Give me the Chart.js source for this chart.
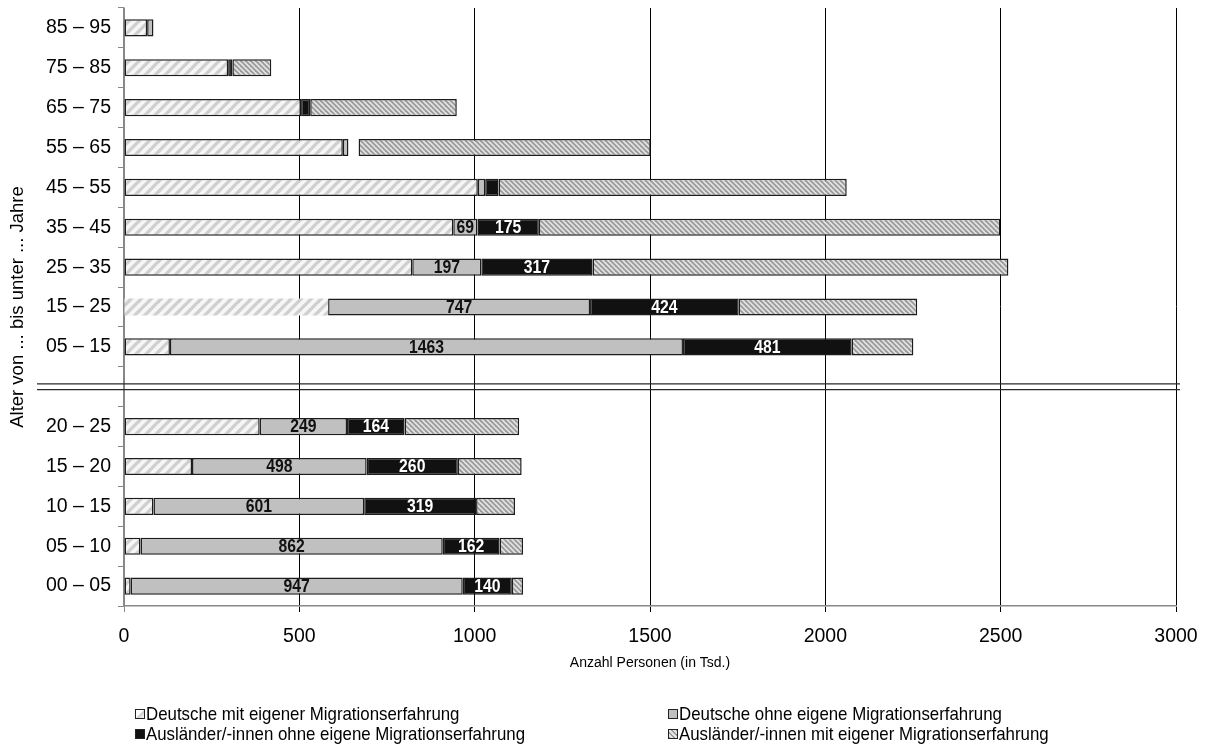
<!DOCTYPE html>
<html><head><meta charset="utf-8">
<script src="https://cdn.jsdelivr.net/npm/chart.js@4.4.0/dist/chart.umd.min.js"></script>
<style>
html,body{margin:0;padding:0;background:#fff;}
#wrap{position:relative;width:1205px;height:749px;overflow:hidden;}
#c{position:absolute;left:0;top:0;}
.leg{position:absolute;font-family:'Liberation Sans',Arial,sans-serif;font-size:18.5px;line-height:21px;color:#000;white-space:nowrap;}
.leg .box{position:absolute;width:8px;height:8px;border:1px solid #222;}
.leg .txt{position:absolute;transform:scaleX(0.91);transform-origin:0 0;}
</style>
</head><body>
<div id="wrap">
<canvas id="c" width="1205" height="749"></canvas>
<div class="leg" id="legend"></div>
</div>
<script>
// ---- data ----
const categories = ['85 – 95','75 – 85','65 – 75','55 – 65','45 – 55','35 – 45','25 – 35','15 – 25','05 – 15','',
                    '20 – 25','15 – 20','10 – 15','05 – 10','00 – 05'];
const seriesNames = ['Deutsche mit eigener Migrationserfahrung',
                     'Deutsche ohne eigene Migrationserfahrung',
                     'Ausländer/-innen ohne eigene Migrationserfahrung',
                     'Ausländer/-innen mit eigener Migrationserfahrung'];
const deutscheMit  = [66, 297, 505, 624, 1009, 939, 822, 582, 131, null, 387, 194, 84, 47, 19];
const deutscheOhne = [18,   0,   0,  16,   21,  69, 197, 747, 1463, null, 249, 498, 601, 862, 947];
const auslOhne     = [ 0,  12,  26,  29,   38, 175, 317, 424, 481, null, 164, 260, 319, 162, 140];
const auslMit      = [ 0, 111, 418, 833,  993, 1316, 1186, 509, 176, null, 327, 182, 111, 67, 32];
const xMin = 0, xMax = 3000, xStep = 500;
const xTitle = 'Anzahl Personen (in Tsd.)';
const yTitle = 'Alter von ... bis unter ... Jahre';
const labelMin = 60;            // segments with smaller values carry no number
const breakIndex = categories.indexOf('');

// ---- styles ----
const FONT = "'Liberation Sans', Arial, sans-serif";
function makePattern(size, bg, fg, lw, dir) {
  const t = document.createElement('canvas');
  t.width = size; t.height = size;
  const g = t.getContext('2d');
  g.fillStyle = bg; g.fillRect(0, 0, size, size);
  g.strokeStyle = fg; g.lineWidth = lw;
  const s = size;
  const segs = dir === '/'
    ? [[-1, s + 1, s + 1, -1], [-1, 1, 1, -1], [s - 1, s + 1, s + 1, s - 1]]
    : [[-1, -1, s + 1, s + 1], [-1, s - 1, 1, s + 1], [s - 1, -1, s + 1, 1]];
  segs.forEach(a => { g.beginPath(); g.moveTo(a[0], a[1]); g.lineTo(a[2], a[3]); g.stroke(); });
  return document.getElementById('c').getContext('2d').createPattern(t, 'repeat');
}
const hatchLight = makePattern(10, '#f6f6f6', '#cfcfcf', 3.2, '/');
const hatchDark = makePattern(5, '#e3e3e3', '#9a9a9a', 1.8, '\\');
const BORDER = '#1c1c1c';

const labelPlugin = {
  id: 'segLabels',
  afterDatasetsDraw(chart) {
    const ctx = chart.ctx;
    [1, 2].forEach(di => {
      const meta = chart.getDatasetMeta(di);
      meta.data.forEach((bar, i) => {
        const v = chart.data.datasets[di].data[i];
        if (v == null || v < labelMin) return;
        const cx = (bar.x + bar.base) / 2;
        ctx.save();
        ctx.translate(cx, bar.y + 1);
        ctx.scale(0.9, 1);
        ctx.font = 'bold 17.5px ' + FONT;
        ctx.fillStyle = di === 1 ? '#111' : '#fff';
        ctx.textAlign = 'center';
        ctx.textBaseline = 'middle';
        ctx.fillText(String(v), 0, 0);
        ctx.restore();
      });
    });
  }
};
const breakPlugin = {
  id: 'breakLine',
  afterDraw(chart) {
    const y = chart.scales.y.getPixelForValue(breakIndex);
    const ctx = chart.ctx;
    ctx.save();
    ctx.strokeStyle = '#2a2a2a';
    ctx.lineWidth = 1.3;
    [-2.8, 2.8].forEach(d => {
      ctx.beginPath();
      ctx.moveTo(37, y + d);
      ctx.lineTo(chart.chartArea.right + 4, y + d);
      ctx.stroke();
    });
    ctx.restore();
  }
};

const common = { borderColor: BORDER, borderSkipped: false, categoryPercentage: 1, barPercentage: 0.43 };
new Chart(document.getElementById('c'), {
  type: 'bar',
  data: {
    labels: categories,
    datasets: [
      Object.assign({ label: seriesNames[0], data: deutscheMit, backgroundColor: hatchLight,
        borderWidth: c => (c.dataIndex === 7 ? 0 : 1.5) }, common),
      Object.assign({ label: seriesNames[1], data: deutscheOhne, backgroundColor: '#c0c0c0', borderWidth: 1.5 }, common),
      Object.assign({ label: seriesNames[2], data: auslOhne,
        backgroundColor: c => (c.dataIndex === 3 ? 'rgba(0,0,0,0)' : '#111'),
        borderWidth: c => (c.dataIndex === 3 ? 0 : 1.5) }, common),
      Object.assign({ label: seriesNames[3], data: auslMit, backgroundColor: hatchDark, borderWidth: 1.5 }, common)
    ]
  },
  options: {
    indexAxis: 'y',
    responsive: false,
    animation: false,
    devicePixelRatio: 1,
    layout: { padding: { top: 8, right: 29, bottom: 73, left: 0 } },
    plugins: { legend: { display: false }, tooltip: { enabled: false } },
    scales: {
      x: {
        stacked: true, min: xMin, max: xMax,
        afterFit: s => { s.height = 70; s.paddingLeft = 0; s.paddingRight = 0; },
        ticks: { stepSize: xStep, color: '#000', font: { family: FONT, size: 19.5 }, padding: 13, maxRotation: 0,
                 callback: v => String(v) },
        grid: { color: c => (c.tick && c.tick.value === 0 ? '#888' : '#000'), lineWidth: 1, tickLength: 6 },
        border: { color: '#888', width: 1.5 },
        title: { display: true, text: xTitle, color: '#000', font: { family: FONT, size: 14 }, padding: { top: 0, bottom: 4 } }
      },
      y: {
        stacked: true,
        afterFit: s => { s.width = 124; s.paddingTop = 0; s.paddingBottom = 0; },
        ticks: { color: '#000', font: { family: FONT, size: 19.5 }, padding: 7, autoSkip: false },
        grid: { drawOnChartArea: false, drawTicks: true, tickLength: 6, color: '#888', offset: true },
        border: { color: '#888', width: 1.5 },
        title: { display: true, text: yTitle, color: '#000', font: { family: FONT, size: 18.5 }, padding: { top: 7, bottom: 0 } }
      }
    }
  },
  plugins: [labelPlugin, breakPlugin]
});

// ---- legend (2 x 2 grid) ----
const legendBoxes = ['linear-gradient(135deg,#fff 0,#fff 45%,#ccc 55%,#fff 100%)', '#c0c0c0', '#111',
  'repeating-linear-gradient(45deg,#9a9a9a 0 1.4px,#e3e3e3 1.4px 3.4px)'];
const legendOrder = [0, 1, 2, 3];
const legCols = [135, 668], legRows = [709, 729];
const leg = document.getElementById('legend');
legendOrder.forEach((si, k) => {
  const col = k % 2, row = Math.floor(k / 2);
  const b = document.createElement('div');
  b.className = 'box';
  b.style.left = legCols[col] + 'px'; b.style.top = legRows[row] + 'px';
  b.style.background = legendBoxes[si];
  const t = document.createElement('div');
  t.className = 'txt';
  t.textContent = seriesNames[si];
  t.style.left = (legCols[col] + 11) + 'px'; t.style.top = (legRows[row] - 6) + 'px';
  leg.appendChild(b); leg.appendChild(t);
});
</script>
</body></html>
